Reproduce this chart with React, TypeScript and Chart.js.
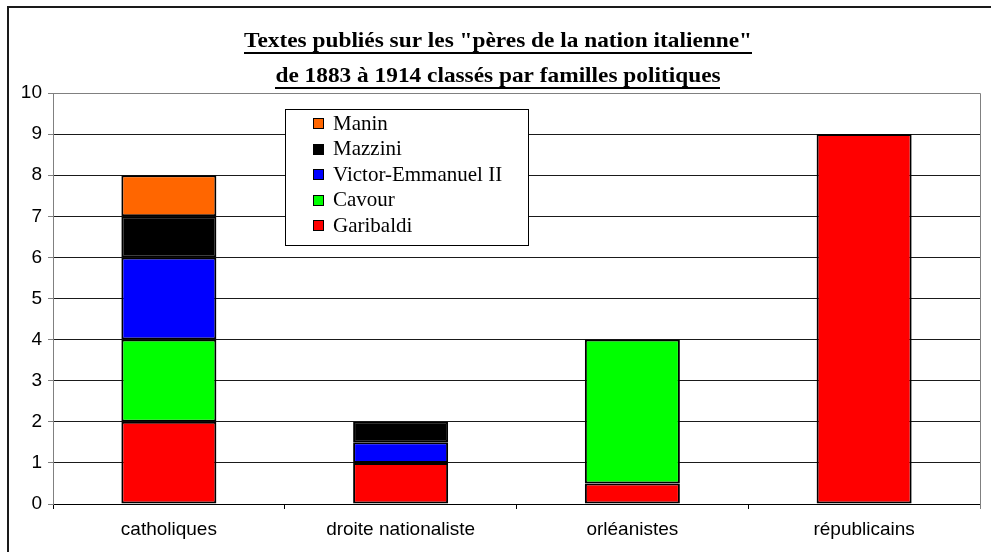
import React, { useEffect, useRef } from "react";
import { Chart, registerables } from "chart.js";

Chart.register(...registerables);

const categories = ["catholiques", "droite nationaliste", "orléanistes", "républicains"];
const garibaldi = [2, 1, 0.5, 9];
const cavour = [2, 0, 3.5, 0];
const victorEmmanuel = [2, 0.5, 0, 0];
const mazzini = [1, 0.5, 0, 0];
const manin = [1, 0, 0, 0];
const seriesNames = ["Garibaldi", "Cavour", "Victor-Emmanuel II", "Mazzini", "Manin"];
const seriesColors = ["#FF0000", "#00FF00", "#0000FF", "#000000", "#FF6600"];
const seriesValues = [garibaldi, cavour, victorEmmanuel, mazzini, manin];
const titleLines = [
  'Textes publiés sur les "pères de la nation italienne"',
  "de 1883 à 1914 classés par familles politiques",
];
const yMin = 0;
const yMax = 10;
const yStep = 1;

const W = 991;
const H = 552;

const decorPlugin = {
  id: "decor",
  beforeDraw(chart: any) {
    const ctx = chart.ctx;
    ctx.save();
    ctx.fillStyle = "#ffffff";
    ctx.fillRect(0, 0, chart.width, chart.height);
    ctx.restore();
  },
  afterDraw(chart: any) {
    const ctx = chart.ctx;
    const area = chart.chartArea;
    ctx.save();
    // outer frame (clipped on right/bottom)
    ctx.fillStyle = "#1a1a1a";
    ctx.fillRect(7, 6, 2, chart.height);
    ctx.fillRect(7, 6, chart.width, 2);

    // plot area top & right border
    ctx.strokeStyle = "#808080";
    ctx.lineWidth = 1;
    ctx.beginPath();
    ctx.moveTo(Math.round(area.left) + 0.5, Math.round(area.top) + 0.5);
    ctx.lineTo(Math.round(area.right) + 0.5, Math.round(area.top) + 0.5);
    ctx.lineTo(Math.round(area.right) + 0.5, Math.round(area.bottom) + 5);
    ctx.stroke();

    // title
    ctx.fillStyle = "#000";
    ctx.font = 'bold 22px "Liberation Serif", "Times New Roman", serif';
    ctx.textBaseline = "alphabetic";
    ctx.textAlign = "center";
    const m0 = ctx.measureText(titleLines[0]).width;
    const sx = 508 / m0;
    const cx = 498;
    const baselines = [47, 82];
    titleLines.forEach((line, i) => {
      const w = ctx.measureText(line).width * sx;
      ctx.save();
      ctx.translate(cx, baselines[i]);
      ctx.scale(sx, 1);
      ctx.fillText(line, 0, 0);
      ctx.restore();
      ctx.fillRect(Math.round(cx - w / 2), baselines[i] + 5, Math.round(w), 2);
    });

    // legend box
    const lx = 285, ly = 109, lw = 243, lh = 136;
    ctx.fillStyle = "#ffffff";
    ctx.fillRect(lx, ly, lw, lh);
    ctx.strokeStyle = "#000";
    ctx.lineWidth = 1;
    ctx.strokeRect(lx + 0.5, ly + 0.5, lw, lh);
    ctx.font = '21px "Liberation Serif", "Times New Roman", serif';
    ctx.textAlign = "left";
    ctx.textBaseline = "middle";
    const ds = chart.data.datasets;
    const order = ds.map((_: any, i: number) => i).reverse();
    order.forEach((idx: number, row: number) => {
      const yc = 123 + row * 25.5;
      ctx.fillStyle = ds[idx].backgroundColor;
      ctx.fillRect(313, Math.round(yc - 5), 11, 11);
      ctx.strokeStyle = "#000";
      ctx.strokeRect(313.5, Math.round(yc - 5) + 0.5, 10, 10);
      ctx.fillStyle = "#000";
      ctx.fillText(ds[idx].label, 333, yc + 1);
    });
    ctx.restore();
  },
};

export default function App() {
  const ref = useRef<HTMLCanvasElement | null>(null);
  useEffect(() => {
    if (!ref.current) return;
    const chart = new Chart(ref.current, {
      type: "bar",
      data: {
        labels: categories,
        datasets: seriesNames.map((name, i) => ({
          label: name,
          data: seriesValues[i],
          backgroundColor: seriesColors[i],
          borderColor: "#000000",
          borderWidth: 2,
          borderSkipped: false,
          categoryPercentage: 1,
          barPercentage: 0.41,
        })),
      },
      options: {
        animation: false,
        responsive: false,
        maintainAspectRatio: false,
        layout: { padding: { top: 93, right: 11, left: 0, bottom: 0 } },
        plugins: {
          legend: { display: false },
          title: { display: false },
          tooltip: { enabled: false },
        },
        scales: {
          x: {
            stacked: true,
            grid: {
              display: true,
              drawOnChartArea: false,
              drawTicks: true,
              tickLength: 5,
              tickColor: "#000",
              offset: true,
            },
            border: { display: true, color: "#000", width: 1 },
            ticks: {
              color: "#000",
              padding: 9,
              font: { family: '"Liberation Sans", Arial, sans-serif', size: 19 },
              maxRotation: 0,
            },
            afterFit(scale: any) {
              scale.height = H - 504;
            },
          },
          y: {
            stacked: true,
            min: yMin,
            max: yMax,
            ticks: {
              stepSize: yStep,
              color: "#000",
              padding: 6,
              font: { family: '"Liberation Sans", Arial, sans-serif', size: 19 },
            },
            grid: {
              color: "#1a1a1a",
              lineWidth: 1,
              tickLength: 5,
              tickColor: "#808080",
            },
            border: { display: true, color: "#808080", width: 1 },
            afterFit(scale: any) {
              scale.width = 53;
            },
          },
        },
      },
      plugins: [decorPlugin],
    });
    return () => chart.destroy();
  }, []);
  return (
    <div style={{ position: "absolute", left: 0, top: 0, width: W, height: H, overflow: "hidden" }}>
      <canvas ref={ref} width={W} height={H} style={{ display: "block", width: W, height: H }} />
    </div>
  );
}
